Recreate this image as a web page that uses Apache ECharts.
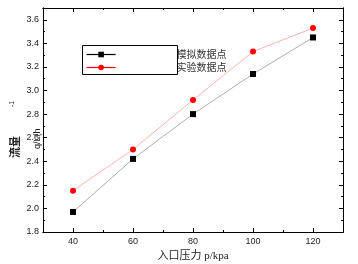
<!DOCTYPE html>
<html><head><meta charset="utf-8">
<script src="https://cdn.jsdelivr.net/npm/echarts@6/dist/echarts.min.js"></script>
<style>html,body{margin:0;padding:0;background:#fff}#c{width:358px;height:264px}</style>
</head><body><div id="c"></div>
<script>
const pressure = [40, 60, 80, 100, 120];
const simulated = [1.97, 2.42, 2.80, 3.14, 3.45];
const experimental = [2.15, 2.50, 2.92, 3.33, 3.53];
const xMajor = [40, 60, 80, 100, 120];
const xMinor = [30, 50, 70, 90, 110, 130];
const yMajor = [1.8, 2.0, 2.2, 2.4, 2.6, 2.8, 3.0, 3.2, 3.4, 3.6];
const yMinor = [1.9, 2.1, 2.3, 2.5, 2.7, 2.9, 3.1, 3.3, 3.5, 3.7];
const seriesNames = ['模拟数据点', '实验数据点'];

const chart = echarts.init(document.getElementById('c'));
const lab = {fontFamily: 'Liberation Sans, Arial', fontSize: 9, color: '#222'};
function xAx(pos, ticks, len, labels) {
  return {type: 'value', min: 30, max: 130, position: pos,
    axisLine: {show: true, lineStyle: {color: '#000', width: 1}},
    axisTick: {show: true, inside: true, length: len, customValues: ticks, lineStyle: {color: '#000'}},
    axisLabel: labels ? Object.assign({show: true, customValues: xMajor, margin: 5}, lab) : {show: false},
    splitLine: {show: false}};
}
function yAx(pos, ticks, len, labels) {
  return {type: 'value', min: 1.8, max: 3.7, position: pos,
    axisLine: {show: true, lineStyle: {color: '#000', width: 1}},
    axisTick: {show: true, inside: true, length: len, customValues: ticks, lineStyle: {color: '#000'}},
    axisLabel: labels ? Object.assign({show: true, customValues: yMajor, margin: 4, formatter: v => v.toFixed(1)}, lab) : {show: false},
    splitLine: {show: false}};
}
chart.setOption({
  animation: false,
  grid: {left: 43, top: 8, right: 15, bottom: 32},
  xAxis: [xAx('bottom', xMajor, 4, true), xAx('bottom', xMinor, 2, false), xAx('top', xMajor, 4, false), xAx('top', xMinor, 2, false)],
  yAxis: [yAx('left', yMajor, 4, true), yAx('left', yMinor, 2, false), yAx('right', yMajor, 4, false), yAx('right', yMinor, 2, false)],
  legend: {left: 86, top: 49, padding: 0, orient: 'vertical', itemWidth: 29, itemHeight: 7, itemGap: 2,
    data: [
      {name: seriesNames[0], itemStyle: {color: '#000'}, lineStyle: {color: '#000', width: 1.2}},
      {name: seriesNames[1], itemStyle: {color: '#f00'}, lineStyle: {color: '#f00', width: 1.2}}
    ],
    textStyle: {fontFamily: 'Noto Sans CJK SC', fontSize: 10, lineHeight: 11, color: '#333', padding: [0, 0, 0, 56]}},
  graphic: [
    {type: 'rect', shape: {x: 82.5, y: 45.5, width: 95, height: 29}, style: {fill: 'none', stroke: '#000', lineWidth: 1}, z: 10},
    {type: 'text', x: 9, y: 158, rotation: Math.PI / 2, style: {text: '流量', font: 'bold 11px "Noto Sans CJK SC"', fill: '#222'}, z: 10},
    {type: 'text', x: 33, y: 149, rotation: Math.PI / 2, style: {text: 'q/L(h', font: '9px "Liberation Sans"', fill: '#222'}, z: 10},
    {type: 'text', x: 9, y: 107, rotation: Math.PI / 2, style: {text: '-1', font: '7px "Liberation Sans"', fill: '#222'}, z: 10},
    {type: 'text', x: 193, y: 256, style: {text: '入口压力 p/kpa', font: '11px "Liberation Serif", "Noto Sans CJK SC"', fill: '#222', align: 'center', verticalAlign: 'middle'}, z: 10}
  ],
  series: [
    {name: seriesNames[0], type: 'line', data: pressure.map((p, i) => [p, simulated[i]]),
      symbol: 'rect', symbolSize: 6, itemStyle: {color: '#000'},
      lineStyle: {color: '#999', width: 0.8}},
    {name: seriesNames[1], type: 'line', data: pressure.map((p, i) => [p, experimental[i]]),
      symbol: 'circle', symbolSize: 6, itemStyle: {color: '#f00'},
      lineStyle: {color: '#ffa0a0', width: 0.8}}
  ]
});
</script></body></html>
